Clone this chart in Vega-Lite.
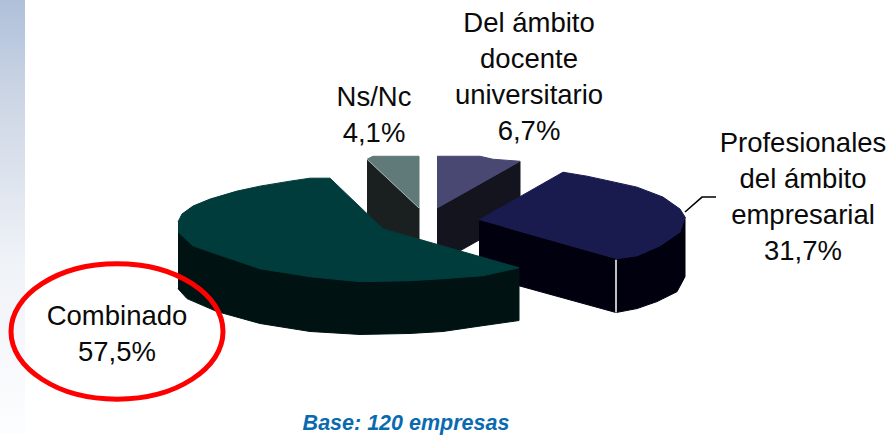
{"$schema":"https://vega.github.io/schema/vega-lite/v6.json","width":890,"height":435,"padding":0,"autosize":{"type":"fit","contains":"padding"},"background":"white","view":{"stroke":null},"config":{"axis":{"disable":true}},
"datasets":{"outline":[
{"part":"a_ns_side","i":1,"x":367,"y":160},{"part":"a_ns_side","i":2,"x":419,"y":209},{"part":"a_ns_side","i":3,"x":419,"y":262},{"part":"a_ns_side","i":4,"x":367,"y":240},
{"part":"b_ns_top","i":1,"x":367,"y":160},{"part":"b_ns_top","i":2,"x":373,"y":157},{"part":"b_ns_top","i":3,"x":419,"y":157},{"part":"b_ns_top","i":4,"x":419,"y":209},
{"part":"c_doc_side","i":1,"x":437,"y":209},{"part":"c_doc_side","i":2,"x":520,"y":162},{"part":"c_doc_side","i":3,"x":520,"y":218},{"part":"c_doc_side","i":4,"x":437,"y":265},
{"part":"d_doc_top","i":1,"x":437,"y":157},{"part":"d_doc_top","i":2,"x":480,"y":157},{"part":"d_doc_top","i":3,"x":493,"y":160},{"part":"d_doc_top","i":4,"x":520,"y":162},{"part":"d_doc_top","i":5,"x":437,"y":209},
{"part":"e_prof_front","i":1,"x":479,"y":221},{"part":"e_prof_front","i":2,"x":616,"y":260},{"part":"e_prof_front","i":3,"x":616,"y":314},{"part":"e_prof_front","i":4,"x":479,"y":276},
{"part":"f_prof_curve","i":1,"x":616,"y":260},{"part":"f_prof_curve","i":2,"x":637,"y":257},{"part":"f_prof_curve","i":3,"x":660,"y":247},{"part":"f_prof_curve","i":4,"x":680,"y":233},{"part":"f_prof_curve","i":5,"x":685,"y":218},{"part":"f_prof_curve","i":6,"x":685,"y":278},{"part":"f_prof_curve","i":7,"x":677,"y":293},{"part":"f_prof_curve","i":8,"x":657,"y":303},{"part":"f_prof_curve","i":9,"x":637,"y":310},{"part":"f_prof_curve","i":10,"x":616,"y":314},
{"part":"g_prof_top","i":1,"x":479,"y":221},{"part":"g_prof_top","i":2,"x":563,"y":173},{"part":"g_prof_top","i":3,"x":587,"y":177},{"part":"g_prof_top","i":4,"x":610,"y":182},{"part":"g_prof_top","i":5,"x":637,"y":188},{"part":"g_prof_top","i":6,"x":663,"y":198},{"part":"g_prof_top","i":7,"x":680,"y":210},{"part":"g_prof_top","i":8,"x":685,"y":218},{"part":"g_prof_top","i":9,"x":680,"y":233},{"part":"g_prof_top","i":10,"x":660,"y":247},{"part":"g_prof_top","i":11,"x":637,"y":257},{"part":"g_prof_top","i":12,"x":616,"y":260},
{"part":"h_comb_side","i":1,"x":178,"y":225},{"part":"h_comb_side","i":2,"x":519,"y":269},{"part":"h_comb_side","i":3,"x":519,"y":322},{"part":"h_comb_side","i":4,"x":477,"y":328},{"part":"h_comb_side","i":5,"x":443,"y":333},{"part":"h_comb_side","i":6,"x":410,"y":335},{"part":"h_comb_side","i":7,"x":360,"y":336},{"part":"h_comb_side","i":8,"x":310,"y":333},{"part":"h_comb_side","i":9,"x":260,"y":325},{"part":"h_comb_side","i":10,"x":217,"y":313},{"part":"h_comb_side","i":11,"x":187,"y":300},{"part":"h_comb_side","i":12,"x":178,"y":290},
{"part":"i_comb_top","i":1,"x":178,"y":223},{"part":"i_comb_top","i":2,"x":182,"y":215},{"part":"i_comb_top","i":3,"x":193,"y":207},{"part":"i_comb_top","i":4,"x":210,"y":200},{"part":"i_comb_top","i":5,"x":237,"y":192},{"part":"i_comb_top","i":6,"x":260,"y":187},{"part":"i_comb_top","i":7,"x":290,"y":182},{"part":"i_comb_top","i":8,"x":310,"y":179},{"part":"i_comb_top","i":9,"x":330,"y":179},{"part":"i_comb_top","i":10,"x":383,"y":230},{"part":"i_comb_top","i":11,"x":519,"y":269},{"part":"i_comb_top","i":12,"x":483,"y":277},{"part":"i_comb_top","i":13,"x":443,"y":280},{"part":"i_comb_top","i":14,"x":410,"y":282},{"part":"i_comb_top","i":15,"x":360,"y":283},{"part":"i_comb_top","i":16,"x":310,"y":278},{"part":"i_comb_top","i":17,"x":260,"y":270},{"part":"i_comb_top","i":18,"x":210,"y":253},{"part":"i_comb_top","i":19,"x":193,"y":247},{"part":"i_comb_top","i":20,"x":178,"y":233}
],
"labels":[
{"label":"Del ámbito\ndocente\nuniversitario\n6,7%","share":6.7,"x":529,"y":32},
{"label":"Ns/Nc\n4,1%","share":4.1,"x":374,"y":106},
{"label":"Profesionales\ndel ámbito\nempresarial\n31,7%","share":31.7,"x":803,"y":153},
{"label":"Combinado\n57,5%","share":57.5,"x":117,"y":327}
],
"ring":[
{"i":1,"x":223,"y":333},{"i":2,"x":215,"y":359},{"i":3,"x":192,"y":381},{"i":4,"x":158,"y":396},{"i":5,"x":117,"y":401},{"i":6,"x":76,"y":396},{"i":7,"x":42,"y":381},{"i":8,"x":19,"y":359},{"i":9,"x":11,"y":333},{"i":10,"x":19,"y":307},{"i":11,"x":42,"y":285},{"i":12,"x":76,"y":270},{"i":13,"x":117,"y":265},{"i":14,"x":158,"y":270},{"i":15,"x":192,"y":285},{"i":16,"x":215,"y":307}
]},
"layer":[
{"data":{"values":[{"x":0,"x2":25,"y":0,"y2":435}]},"mark":{"type":"rect","fill":{"gradient":"linear","x1":0,"y1":0,"x2":0,"y2":1,"stops":[{"offset":0,"color":"#afc0da"},{"offset":0.23,"color":"#cdd6e5"},{"offset":0.6,"color":"#eff2f7"},{"offset":1,"color":"#fcfdfe"}]}},
"encoding":{"x":{"field":"x","type":"quantitative","scale":{"domain":[0,890],"nice":false,"zero":false},"axis":null},"x2":{"field":"x2"},"y":{"field":"y","type":"quantitative","scale":{"domain":[435,0],"nice":false,"zero":false},"axis":null},"y2":{"field":"y2"}}},
{"data":{"name":"outline"},"mark":{"type":"line","strokeWidth":1,"interpolate":"linear"},
"encoding":{"x":{"field":"x","type":"quantitative"},"y":{"field":"y","type":"quantitative"},"order":{"field":"i","type":"ordinal"},"detail":{"field":"part"},
"color":{"field":"part","type":"nominal","legend":null,"scale":{"domain":["a_ns_side","b_ns_top","c_doc_side","d_doc_top","e_prof_front","f_prof_curve","g_prof_top","h_comb_side","i_comb_top"],"range":["#1a2020","#5f7a78","#14141f","#484872","#00000f","#00000f","#191b4f","#001212","#003c3c"]}},
"fill":{"field":"part","type":"nominal","legend":null,"scale":{"domain":["a_ns_side","b_ns_top","c_doc_side","d_doc_top","e_prof_front","f_prof_curve","g_prof_top","h_comb_side","i_comb_top"],"range":["#1a2020","#5f7a78","#14141f","#484872","#00000f","#00000f","#191b4f","#001212","#003c3c"]}}}},
{"data":{"values":[{"i":1,"x":367,"y":160},{"i":2,"x":419,"y":209}]},"mark":{"type":"line","color":"#a9b5b3","strokeWidth":1},"encoding":{"x":{"field":"x","type":"quantitative"},"y":{"field":"y","type":"quantitative"},"order":{"field":"i","type":"ordinal"}}},
{"data":{"values":[{"x":616,"y":261,"y2":314}]},"mark":{"type":"rule","color":"white","strokeWidth":1.5},"encoding":{"x":{"field":"x","type":"quantitative"},"y":{"field":"y","type":"quantitative"},"y2":{"field":"y2"}}},
{"data":{"values":[{"i":1,"x":685,"y":213},{"i":2,"x":702,"y":198},{"i":3,"x":716,"y":198}]},"mark":{"type":"line","color":"black","strokeWidth":1.5},"encoding":{"x":{"field":"x","type":"quantitative"},"y":{"field":"y","type":"quantitative"},"order":{"field":"i","type":"ordinal"}}},
{"data":{"name":"ring"},"mark":{"type":"line","stroke":"#ff0000","strokeWidth":5,"interpolate":"cardinal-closed"},"encoding":{"x":{"field":"x","type":"quantitative"},"y":{"field":"y","type":"quantitative"},"order":{"field":"i","type":"ordinal"}}},
{"data":{"name":"labels"},"mark":{"type":"text","font":"Liberation Sans","fontSize":27.5,"color":"#0a0a0a","align":"center","baseline":"alphabetic","lineBreak":"\n","lineHeight":36},"encoding":{"x":{"field":"x","type":"quantitative"},"y":{"field":"y","type":"quantitative"},"text":{"field":"label"}}},
{"data":{"values":[{"label":"Base: 120 empresas","x":406,"y":432}]},"mark":{"type":"text","font":"Liberation Sans","fontSize":21.5,"fontWeight":"bold","fontStyle":"italic","color":"#0a6ab0","align":"center","baseline":"alphabetic"},"encoding":{"x":{"field":"x","type":"quantitative"},"y":{"field":"y","type":"quantitative"},"text":{"field":"label"}}}
]}
